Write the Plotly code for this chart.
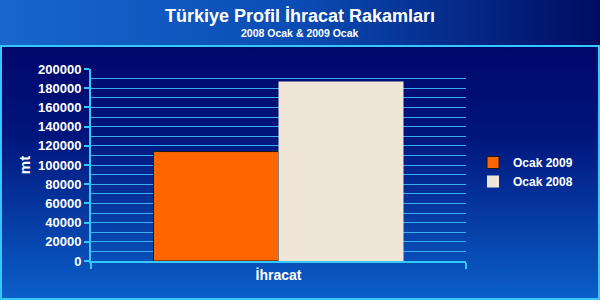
import base64
import plotly.graph_objects as go

# ---- data ----
categories = ["İhracat"]
series_names = ["Ocak 2009", "Ocak 2008"]
values_2009 = [114000]
values_2008 = [187000]
y_ticks = [0, 20000, 40000, 60000, 80000, 100000, 120000, 140000, 160000, 180000, 200000]

title_text = "Türkiye Profil İhracat Rakamları"
subtitle_text = "2008 Ocak & 2009 Ocak"
y_title = "mt"

W, H = 600, 300
ML, MR, MT, MB = 91, 134, 69, 39
PW, PH = W - ML - MR, H - MT - MB

FONT = "Liberation Sans, Arial, sans-serif"
CYAN = "#33C8FF"
GRID = "#3AAEF0"

# background (gradient title band + gradient framed panel)
svg = f'''<svg xmlns="http://www.w3.org/2000/svg" width="{W}" height="{H}" viewBox="0 0 {W} {H}" preserveAspectRatio="none">
<defs>
<linearGradient id="h" x1="0" y1="0" x2="1" y2="0">
<stop offset="0" stop-color="#1767CC"/><stop offset="0.5" stop-color="#0A4CB4"/><stop offset="1" stop-color="#000C62"/></linearGradient>
<linearGradient id="v" x1="0" y1="0" x2="0" y2="1">
<stop offset="0" stop-color="#00076A"/><stop offset="0.35" stop-color="#00157C"/><stop offset="1" stop-color="#0B5FC9"/></linearGradient>
</defs>
<rect x="0" y="0" width="{W}" height="46" fill="url(#h)"/>
<rect x="1" y="46" width="{W-2}" height="{H-47}" fill="url(#v)" stroke="{CYAN}" stroke-width="2"/>
</svg>'''
bg_uri = "data:image/svg+xml;base64," + base64.b64encode(svg.encode("utf-8")).decode("ascii")

fig = go.Figure()
fig.add_trace(go.Bar(
    x=categories, y=values_2009, name=series_names[0],
    marker=dict(color="#FF6600", line=dict(color="#1A1A1A", width=1)),
))
fig.add_trace(go.Bar(
    x=categories, y=values_2008, name=series_names[1],
    marker=dict(color="#F0E6D8", line=dict(width=0)),
))

fig.update_layout(
    width=W, height=H,
    margin=dict(l=ML, r=MR, t=MT, b=MB, pad=0),
    paper_bgcolor="#0A3A9A",
    plot_bgcolor="rgba(0,0,0,0)",
    barmode="group",
    bargap=1/3,
    bargroupgap=0,
    showlegend=True,
    legend=dict(
        x=(473 - ML) / PW, y=(261 - 172) / PH, xanchor="left", yanchor="middle",
        font=dict(family=FONT, size=12, color="white", weight="bold"),
        bgcolor="rgba(0,0,0,0)", traceorder="normal",
        itemclick=False,
    ),
    font=dict(family=FONT, color="white"),
    images=[dict(
        source=bg_uri, xref="paper", yref="paper",
        x=-ML / PW, y=1 + MT / PH, sizex=W / PW, sizey=H / PH,
        xanchor="left", yanchor="top", sizing="stretch", layer="below",
    )],
    annotations=[
        dict(text=title_text, xref="paper", yref="paper",
             x=(300 - ML) / PW, y=1 + (MT - 16) / PH, xanchor="center", yanchor="middle",
             showarrow=False, font=dict(family=FONT, size=18, color="white", weight="bold")),
        dict(text=subtitle_text, xref="paper", yref="paper",
             x=(300 - ML) / PW, y=1 + (MT - 33) / PH, xanchor="center", yanchor="middle",
             showarrow=False, font=dict(family=FONT, size=10.5, color="white", weight="bold")),
    ],
)

fig.update_yaxes(
    range=[0, 200000], tickvals=y_ticks, ticktext=[str(v) for v in y_ticks],
    showline=True, linecolor=CYAN, linewidth=2,
    ticks="outside", ticklen=5, tickcolor=CYAN, tickwidth=2,
    showgrid=True, gridcolor=GRID, gridwidth=1,
    minor=dict(dtick=10000, showgrid=True, gridcolor=GRID, gridwidth=1, ticks=""),
    zeroline=False,
    tickfont=dict(family=FONT, size=13, color="white", weight="bold"),
    title=dict(text=y_title, standoff=4, font=dict(family=FONT, size=15, color="white", weight="bold")),
)
fig.update_xaxes(
    showline=True, linecolor=CYAN, linewidth=2,
    ticks="outside", tickson="boundaries", ticklen=6, tickcolor=CYAN, tickwidth=2,
    showgrid=False,
    tickfont=dict(family=FONT, size=14, color="white", weight="bold"),
)

fig.write_html("out.html")
